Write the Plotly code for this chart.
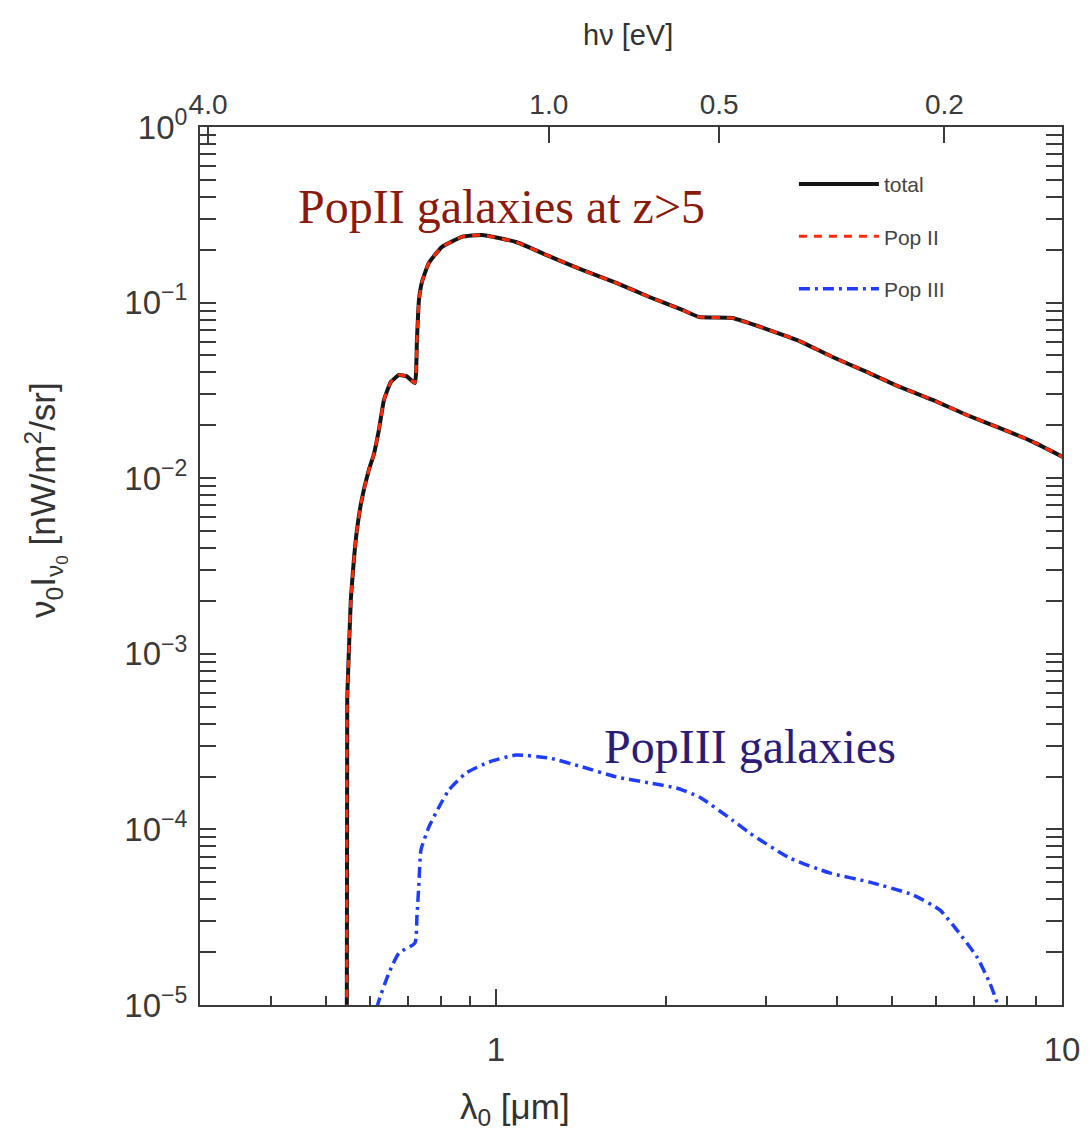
import plotly.graph_objects as go

# Wavelength (micron) and nu*I_nu (nW/m^2/sr)
lam_pop2 = [0.545, 0.546, 0.549, 0.554, 0.561, 0.568, 0.579, 0.596, 0.608, 0.621, 0.634,
            0.652, 0.674, 0.696, 0.719, 0.725, 0.731, 0.740, 0.761, 0.802, 0.871, 0.944,
            1.085, 1.241, 1.420, 1.631, 1.866, 2.134, 2.287, 2.616, 3.005, 3.438, 3.932,
            4.517, 5.168, 5.911, 6.79, 7.77, 8.886, 10.04]
val_pop2 = [5e-6, 5.46e-4, 9.2e-4, 2.02e-3, 3.42e-3, 5.07e-3, 7.5e-3, 0.0111, 0.01355, 0.0188,
            0.0279, 0.0353, 0.0387, 0.0380, 0.0348, 0.0612, 0.1035, 0.131, 0.168, 0.207,
            0.2366, 0.2427, 0.2214, 0.184, 0.1534, 0.1294, 0.1076, 0.0908, 0.0828, 0.0817,
            0.0707, 0.0604, 0.049, 0.0403, 0.0331, 0.0279, 0.0229, 0.0193, 0.0161, 0.0132]
lam_total = lam_pop2
val_total = val_pop2

lam_pop3 = [0.613, 0.618, 0.647, 0.674, 0.719, 0.725, 0.731, 0.737, 0.761, 0.793, 0.826,
            0.885, 0.972, 1.085, 1.241, 1.420, 1.631, 1.866, 2.083, 2.287, 2.616, 2.804,
            3.301, 3.885, 4.573, 5.448, 6.083, 6.522, 7.072, 7.459, 7.674, 7.8]
val_pop3 = [7e-6, 1.0e-5, 1.52e-5, 1.98e-5, 2.25e-5, 3.17e-5, 4.95e-5, 7.64e-5, 1.03e-4,
            1.34e-4, 1.68e-4, 2.09e-4, 2.42e-4, 2.65e-4, 2.55e-4, 2.27e-4, 1.99e-4, 1.84e-4,
            1.72e-4, 1.53e-4, 1.13e-4, 9.55e-5, 6.88e-5, 5.65e-5, 5.01e-5, 4.24e-5, 3.48e-5,
            2.67e-5, 1.88e-5, 1.33e-5, 1.03e-5, 7e-6]

ev_ticks = [4.0, 1.0, 0.5, 0.2]
ev_labels = ["4.0", "1.0", "0.5", "0.2"]
hc_ev_um = 1.2398

y_major = [1e0, 1e-1, 1e-2, 1e-3, 1e-4, 1e-5]
y_labels = ["10<sup>0</sup>", "10<sup>\u22121</sup>", "10<sup>\u22122</sup>",
            "10<sup>\u22123</sup>", "10<sup>\u22124</sup>", "10<sup>\u22125</sup>"]
y_minor = [m * 10.0 ** e for e in range(-5, 0) for m in range(2, 10)]
x_major = [1, 10]
x_labels = ["1", "10"]
x_minor = [0.3, 0.4, 0.5, 0.6, 0.7, 0.8, 0.9, 2, 3, 4, 5, 6, 7, 8, 9]

fig = go.Figure()
fig.add_trace(go.Scatter(x=lam_total, y=val_total, mode="lines", name="total",
                         line=dict(color="#151515", width=4, shape="spline", smoothing=0.4),
                         legendgroup="a"))
fig.add_trace(go.Scatter(x=lam_pop2, y=val_pop2, mode="lines", name="Pop II",
                         line=dict(color="#ff2a0a", width=3, dash="8px,7px", shape="spline", smoothing=0.4),
                         legendgroup="b"))
fig.add_trace(go.Scatter(x=lam_pop3, y=val_pop3, mode="lines", name="Pop III",
                         line=dict(color="#1f3dff", width=3.5, dash="11px,5px,3px,5px", shape="spline", smoothing=0.5),
                         legendgroup="c"))
# invisible trace to attach the top (energy) axis
fig.add_trace(go.Scatter(x=lam_total, y=val_total, mode="lines", xaxis="x2",
                         line=dict(color="rgba(0,0,0,0)"), showlegend=False, hoverinfo="skip"))

SANS = "Liberation Sans, Arial"
tick_font = dict(family=SANS, size=33, color="#3a3a3a")
axcol = "#3a3a3a"
title_font = dict(family=SANS, size=35, color="#333")

fig.update_layout(
    width=1091, height=1130,
    margin=dict(l=200, r=29, t=127, b=125),
    paper_bgcolor="white", plot_bgcolor="white",
    showlegend=True,
    legend=dict(x=0.689, y=0.958, xanchor="left", yanchor="top",
                font=dict(family=SANS, size=21, color="#444"),
                bgcolor="rgba(0,0,0,0)", tracegroupgap=22, itemwidth=80),
    xaxis=dict(type="log", range=[-0.5229, 1.0], showgrid=False, zeroline=False,
               showline=True, linecolor=axcol, linewidth=2, mirror=True,
               ticks="inside", ticklen=16, tickwidth=2, tickcolor=axcol,
               tickmode="array", tickvals=x_major, ticktext=x_labels, tickfont=tick_font,
               ticklabelstandoff=14,
               minor=dict(ticks="inside", ticklen=9, tickwidth=2, tickcolor=axcol,
                          tickmode="array", tickvals=x_minor, showgrid=False)),
    xaxis2=dict(type="log", range=[-0.5229, 1.0], overlaying="x", side="top",
                showgrid=False, zeroline=False, showline=False,
                ticks="inside", ticklen=16, tickwidth=2, tickcolor=axcol,
                tickmode="array", tickvals=[hc_ev_um / e for e in ev_ticks], ticktext=ev_labels,
                tickfont=dict(family=SANS, size=28, color="#3a3a3a"), ticklabelstandoff=6),
    yaxis=dict(type="log", range=[-5, 0], showgrid=False, zeroline=False,
               showline=True, linecolor=axcol, linewidth=2, mirror="allticks",
               ticks="inside", ticklen=16, tickwidth=2, tickcolor=axcol,
               tickmode="array", tickvals=y_major, ticktext=y_labels, tickfont=tick_font,
               ticklabelstandoff=4,
               minor=dict(ticks="inside", ticklen=9, tickwidth=2, tickcolor=axcol,
                          tickmode="array", tickvals=y_minor, showgrid=False)),
    annotations=[
        dict(text="\u03bd<sub>0</sub>I<sub>\u03bd<sub>0</sub></sub> [nW/m<sup>2</sup>/sr]",
             xref="paper", yref="paper", x=-0.180, y=0.575, textangle=-90,
             xanchor="center", yanchor="middle", showarrow=False, font=title_font),
        dict(text="\u03bb<sub>0</sub> [\u03bcm]", xref="paper", yref="paper", x=0.366, y=-0.118,
             xanchor="center", yanchor="middle", showarrow=False, font=title_font),
        dict(text="h\u03bd [eV]", xref="paper", yref="paper", x=0.497, y=1.105,
             xanchor="center", yanchor="middle", showarrow=False,
             font=dict(family=SANS, size=29, color="#333")),
        dict(text="PopII galaxies at z>5", xref="paper", yref="paper", x=0.350, y=0.909,
             xanchor="center", yanchor="middle", showarrow=False,
             font=dict(family="Liberation Serif, DejaVu Serif", size=48, color="#8a1a0c")),
        dict(text="PopIII galaxies", xref="paper", yref="paper", x=0.638, y=0.294,
             xanchor="center", yanchor="middle", showarrow=False,
             font=dict(family="Liberation Serif, DejaVu Serif", size=48, color="#2c1c78")),
    ],
)

fig.write_html("out.html")
